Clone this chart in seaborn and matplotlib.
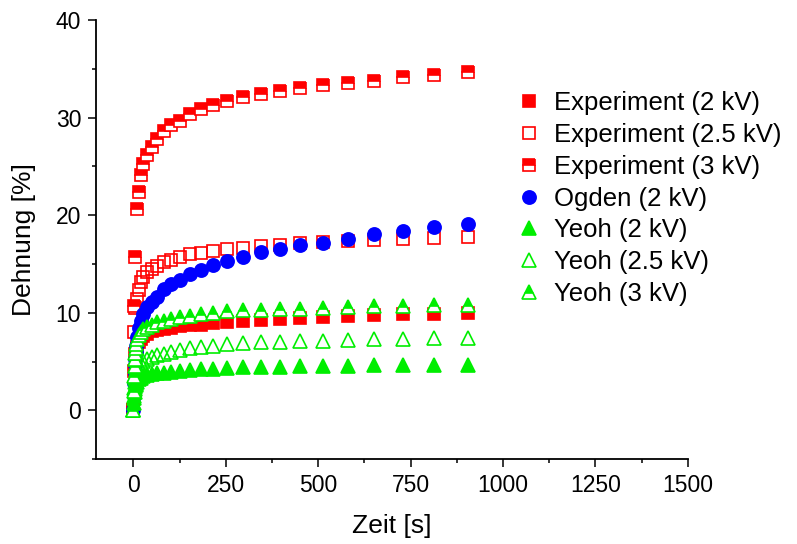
import numpy as np
import pandas as pd
import matplotlib
matplotlib.use("Agg")
import matplotlib.pyplot as plt
from matplotlib.ticker import MultipleLocator
import seaborn as sns

# Messzeiten [s] (Experiment) und Modellzeiten
t_exp = [0, 2, 5, 9, 14, 20, 27, 38, 50, 65, 82, 103, 127, 153, 183, 216, 254,
         297, 344, 396, 452, 514, 580, 651, 730, 813, 904]
t_mod = [0, 1, 2, 3, 4, 5, 6, 7, 9, 14, 20, 27, 38, 50, 65, 82, 103, 127, 153,
         183, 216, 254, 297, 344, 396, 452, 514, 580, 651, 730, 813, 904]

# Dehnung [%]
exp_2kv = [0, 4.0, 5.8, 6.5, 7.0, 7.3, 7.6, 7.8, 8.1, 8.2, 8.3, 8.4, 8.6, 8.7,
           8.8, 8.95, 9.05, 9.2, 9.3, 9.4, 9.5, 9.6, 9.7, 9.8, 9.9, 9.9, 10.0]
exp_25kv = [0, 8.0, 10.5, 11.4, 12.3, 13.2, 13.7, 14.2, 14.5, 14.8, 15.2, 15.4,
            15.7, 16.0, 16.1, 16.3, 16.5, 16.6, 16.8, 17.0, 17.2, 17.3, 17.4,
            17.5, 17.6, 17.7, 17.8]
exp_3kv = [0, 10.7, 15.7, 20.6, 22.4, 24.1, 25.3, 26.2, 27.0, 27.8, 28.6, 29.2,
           29.7, 30.4, 30.9, 31.3, 31.7, 32.1, 32.4, 32.7, 33.0, 33.3, 33.6,
           33.8, 34.2, 34.4, 34.7]
ogden_2kv = [0, 1.5, 2.8, 3.8, 4.6, 5.3, 6.0, 6.6, 7.5, 8.4, 9.2, 9.9, 10.6,
             11.1, 11.6, 12.4, 13.0, 13.4, 14.0, 14.4, 14.9, 15.3, 15.7, 16.2,
             16.5, 16.9, 17.2, 17.6, 18.1, 18.4, 18.8, 19.1]
yeoh_2kv = [0, 0.8, 1.5, 1.9, 2.2, 2.4, 2.6, 2.75, 2.9, 3.2, 3.35, 3.5, 3.6,
            3.7, 3.8, 3.85, 3.95, 4.0, 4.15, 4.2, 4.25, 4.3, 4.4, 4.45, 4.45,
            4.5, 4.5, 4.55, 4.6, 4.7, 4.7, 4.7]
yeoh_25kv = [0, 1.3, 2.3, 2.9, 3.3, 3.6, 3.9, 4.1, 4.3, 4.6, 4.9, 5.1, 5.3,
             5.5, 5.65, 5.8, 6.0, 6.15, 6.4, 6.5, 6.6, 6.8, 6.9, 7.0, 7.05,
             7.1, 7.15, 7.25, 7.3, 7.35, 7.4, 7.45]
yeoh_3kv = [0, 2.0, 3.5, 4.5, 5.3, 5.9, 6.4, 6.8, 7.3, 7.7, 8.0, 8.3, 8.5, 8.8,
            9.05, 9.2, 9.4, 9.6, 9.7, 9.9, 10.0, 10.2, 10.3, 10.3, 10.35, 10.4,
            10.5, 10.6, 10.7, 10.7, 10.8, 10.8]

sns.set_style("ticks", {"axes.edgecolor": "black", "text.color": "black",
                        "xtick.color": "black", "ytick.color": "black",
                        "axes.labelcolor": "black"})
plt.rcParams["font.family"] = ["Liberation Sans", "DejaVu Sans"]

fig = plt.figure(figsize=(7.97, 5.44), dpi=100)
ax = fig.add_axes([0.121, 0.156, 0.742, 0.807])

red = "#ff0000"
blue = "#0000ff"
green = "#00ee00"

series = [
    ("Experiment (2 kV)", t_exp, exp_2kv, "s", red, "full", 8.5),
    ("Experiment (2.5 kV)", t_exp, exp_25kv, "s", red, "none", 8.5),
    ("Experiment (3 kV)", t_exp, exp_3kv, "s", red, "top", 8.5),
    ("Ogden (2 kV)", t_mod, ogden_2kv, "o", blue, "full", 9.5),
    ("Yeoh (2 kV)", t_mod, yeoh_2kv, "^", green, "full", 10),
    ("Yeoh (2.5 kV)", t_mod, yeoh_25kv, "^", green, "none", 10),
    ("Yeoh (3 kV)", t_mod, yeoh_3kv, "^", green, "top", 10),
]

for label, t, y, m, c, fs, ms in series:
    df = pd.DataFrame({"t": t, "y": y})
    sns.lineplot(data=df, x="t", y="y", ax=ax, label=label, marker=m,
                 linestyle="", color=c, markeredgecolor=c, fillstyle=fs,
                 markerfacecoloralt="white", markersize=ms,
                 markeredgewidth=1.2, sort=False)

ax.set_xlim(-100, 1500)
ax.set_ylim(-5, 40)
ax.xaxis.set_major_locator(MultipleLocator(250))
ax.xaxis.set_minor_locator(MultipleLocator(125))
ax.yaxis.set_major_locator(MultipleLocator(10))
ax.yaxis.set_minor_locator(MultipleLocator(5))
ax.tick_params(which="major", length=6, width=1.1, labelsize=16.5, pad=5)
ax.tick_params(which="minor", length=3, width=1.1)
for s in ["left", "bottom"]:
    ax.spines[s].set_linewidth(1.3)
sns.despine(ax=ax)

ax.set_xlabel("Zeit [s]", fontsize=19, labelpad=12)
ax.set_ylabel("Dehnung [%]", fontsize=19, labelpad=14)

ax.legend(loc="upper left", bbox_to_anchor=(0.648, 0.832),
          bbox_transform=fig.transFigure, frameon=False, fontsize=18.5,
          handlelength=1.0, handletextpad=0.45, labelspacing=0.3,
          borderpad=0, borderaxespad=0)

fig.savefig("out.png", dpi=100)
